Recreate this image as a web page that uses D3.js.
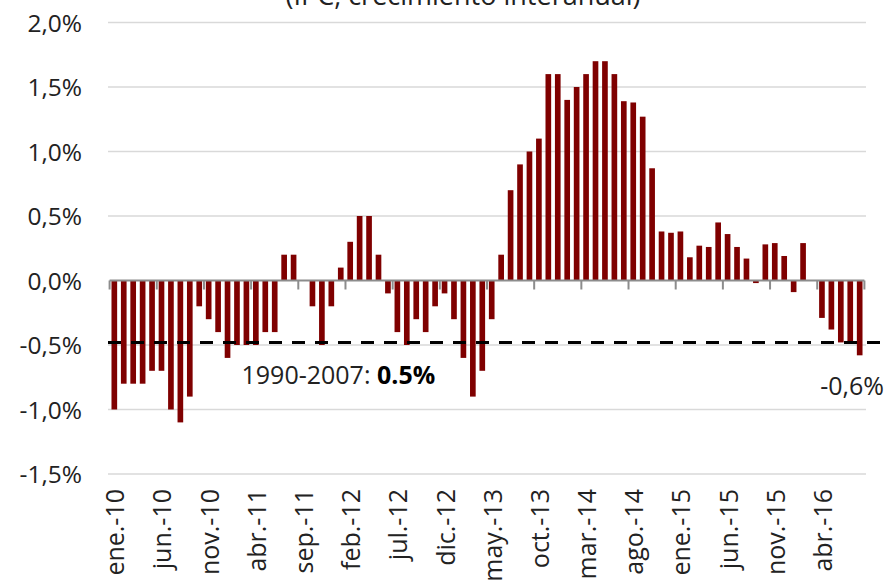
<!DOCTYPE html>
<html>
<head>
<meta charset="utf-8">
<script src="https://cdn.jsdelivr.net/npm/d3@7"></script>
<style>
  html, body { margin: 0; padding: 0; background: #fff; }
  svg { display: block; font-family: "Open Sans", "Noto Sans", sans-serif; }
</style>
</head>
<body>
<div id="root"></div>
<script>
const monthNames = ['ene.', 'feb.', 'mar.', 'abr.', 'may.', 'jun.', 'jul.', 'ago.', 'sep.', 'oct.', 'nov.', 'dic.'];
const years = ['10', '11', '12', '13', '14', '15', '16'];
const numberOfMonths = 80;
const categories = d3.range(numberOfMonths)
  .map((i) => `${ monthNames[i % 12] }-${ years[Math.floor(i / 12)] }`);

// IPC, crecimiento interanual (%)
const ipcValues = [
  -1.0, -0.8, -0.8, -0.8, -0.7, -0.7, -1.0, -1.1, -0.9, -0.2,
  -0.3, -0.4, -0.6, -0.5, -0.5, -0.5, -0.4, -0.4, 0.2, 0.2,
  0.0, -0.2, -0.5, -0.2, 0.1, 0.3, 0.5, 0.5, 0.2, -0.1,
  -0.4, -0.5, -0.3, -0.4, -0.2, -0.1, -0.3, -0.6, -0.9, -0.7,
  -0.3, 0.2, 0.7, 0.9, 1.0, 1.1, 1.6, 1.6, 1.4, 1.5,
  1.6, 1.7, 1.7, 1.6, 1.39, 1.38, 1.27, 0.87, 0.38, 0.37,
  0.38, 0.18, 0.27, 0.26, 0.45, 0.36, 0.26, 0.17, -0.02, 0.28,
  0.29, 0.19, -0.09, 0.29, 0.0, -0.29, -0.38, -0.48, -0.48, -0.58,
];
const yTicks = [-1.5, -1.0, -0.5, 0, 0.5, 1.0, 1.5, 2.0];
const averageValue = -0.48;
const averageLabel = '1990-2007: ';
const averageLabelBold = '0.5%';
const lastLabel = '-0,6%';
const title = '(IPC, crecimiento interanual)';
const labelEvery = 5;

const width = 886;
const height = 584;
const plotLeft = 109.6;
const plotRight = 864.4;
const barColor = '#7f0000';
const textColor = '#222';

const locale = d3.formatLocale({
  decimal: ',', thousands: '.', grouping: [ 3 ], currency: [ '', '' ], minus: '-',
});
const fmt = locale.format('.1f');

const svg = d3.select('#root')
  .append('svg')
  .attr('width', width)
  .attr('height', height);

const x = d3.scaleBand()
  .domain(d3.range(categories.length))
  .range([ plotLeft, plotRight ])
  .paddingInner(0.4)
  .paddingOuter(0.2);

const y = d3.scaleLinear()
  .domain([ -1.5, 2.0 ])
  .range([ 474, 22.5 ]);

// title, partly cut off at the top as in the source
svg.append('text')
  .attr('x', 463)
  .attr('y', 5)
  .attr('text-anchor', 'middle')
  .attr('font-size', '27px')
  .attr('fill', textColor)
  .text(title);

// gridlines
svg.append('g')
  .selectAll('line')
  .data(yTicks.filter((d) => d !== 0))
  .enter()
  .append('line')
  .attr('x1', 108)
  .attr('x2', 866)
  .attr('y1', (d) => y(d))
  .attr('y2', (d) => y(d))
  .style('stroke', '#d9d9d9')
  .style('stroke-width', '1.5px');

// y labels
const yAxis = d3.axisLeft(y)
  .tickValues(yTicks)
  .tickSize(0)
  .tickPadding(0)
  .tickFormat((d) => `${ fmt(d) }%`);

svg.append('g')
  .attr('transform', 'translate(82,0)')
  .call(yAxis)
  .call((g) => g.select('.domain').remove())
  .call((g) => g.selectAll('text')
    .attr('font-size', '24.5px')
    .attr('font-family', '"Open Sans", sans-serif')
    .attr('fill', textColor)
    .attr('dy', '0.36em'));

// bars
svg.append('g')
  .selectAll('rect')
  .data(ipcValues)
  .enter()
  .append('rect')
  .attr('x', (_d, i) => x(i))
  .attr('width', x.bandwidth())
  .attr('y', (d) => y(Math.max(0, d)))
  .attr('height', (d) => Math.abs(y(d) - y(0)))
  .style('fill', barColor);

// category axis at zero
svg.append('line')
  .attr('x1', plotLeft)
  .attr('x2', plotRight)
  .attr('y1', y(0))
  .attr('y2', y(0))
  .style('stroke', '#8c8c8c')
  .style('stroke-width', '2px');

const tickIdx = d3.range(0, categories.length + 1, labelEvery);
svg.append('g')
  .selectAll('line')
  .data(tickIdx)
  .enter()
  .append('line')
  .attr('x1', (d) => plotLeft + d * x.step())
  .attr('x2', (d) => plotLeft + d * x.step())
  .attr('y1', y(0))
  .attr('y2', y(0) + 9)
  .style('stroke', '#8c8c8c')
  .style('stroke-width', '2px');

svg.append('g')
  .selectAll('text')
  .data(categories.filter((_d, i) => i % labelEvery === 0))
  .enter()
  .append('text')
  .attr('transform', (_d, i) => `translate(${ x(i * labelEvery) + x.bandwidth() / 2 + 1 },489) rotate(-90)`)
  .attr('text-anchor', 'end')
  .attr('dy', '0.36em')
  .attr('font-size', '25px')
  .attr('fill', textColor)
  .text((d) => d);

// average line
svg.append('line')
  .attr('x1', 108)
  .attr('x2', width)
  .attr('y1', y(averageValue))
  .attr('y2', y(averageValue))
  .style('stroke', '#000')
  .style('stroke-width', '3px')
  .style('stroke-dasharray', '13,10');

const avgText = svg.append('text')
  .attr('x', 241.5)
  .attr('y', 384)
  .attr('font-size', '25px')
  .attr('fill', textColor);
avgText.append('tspan').text(averageLabel);
avgText.append('tspan').attr('font-weight', 'bold').attr('fill', '#000').text(averageLabelBold);

svg.append('text')
  .attr('x', 884)
  .attr('y', 395)
  .attr('text-anchor', 'end')
  .attr('font-size', '25px')
  .attr('fill', textColor)
  .text(lastLabel);
</script>
</body>
</html>
